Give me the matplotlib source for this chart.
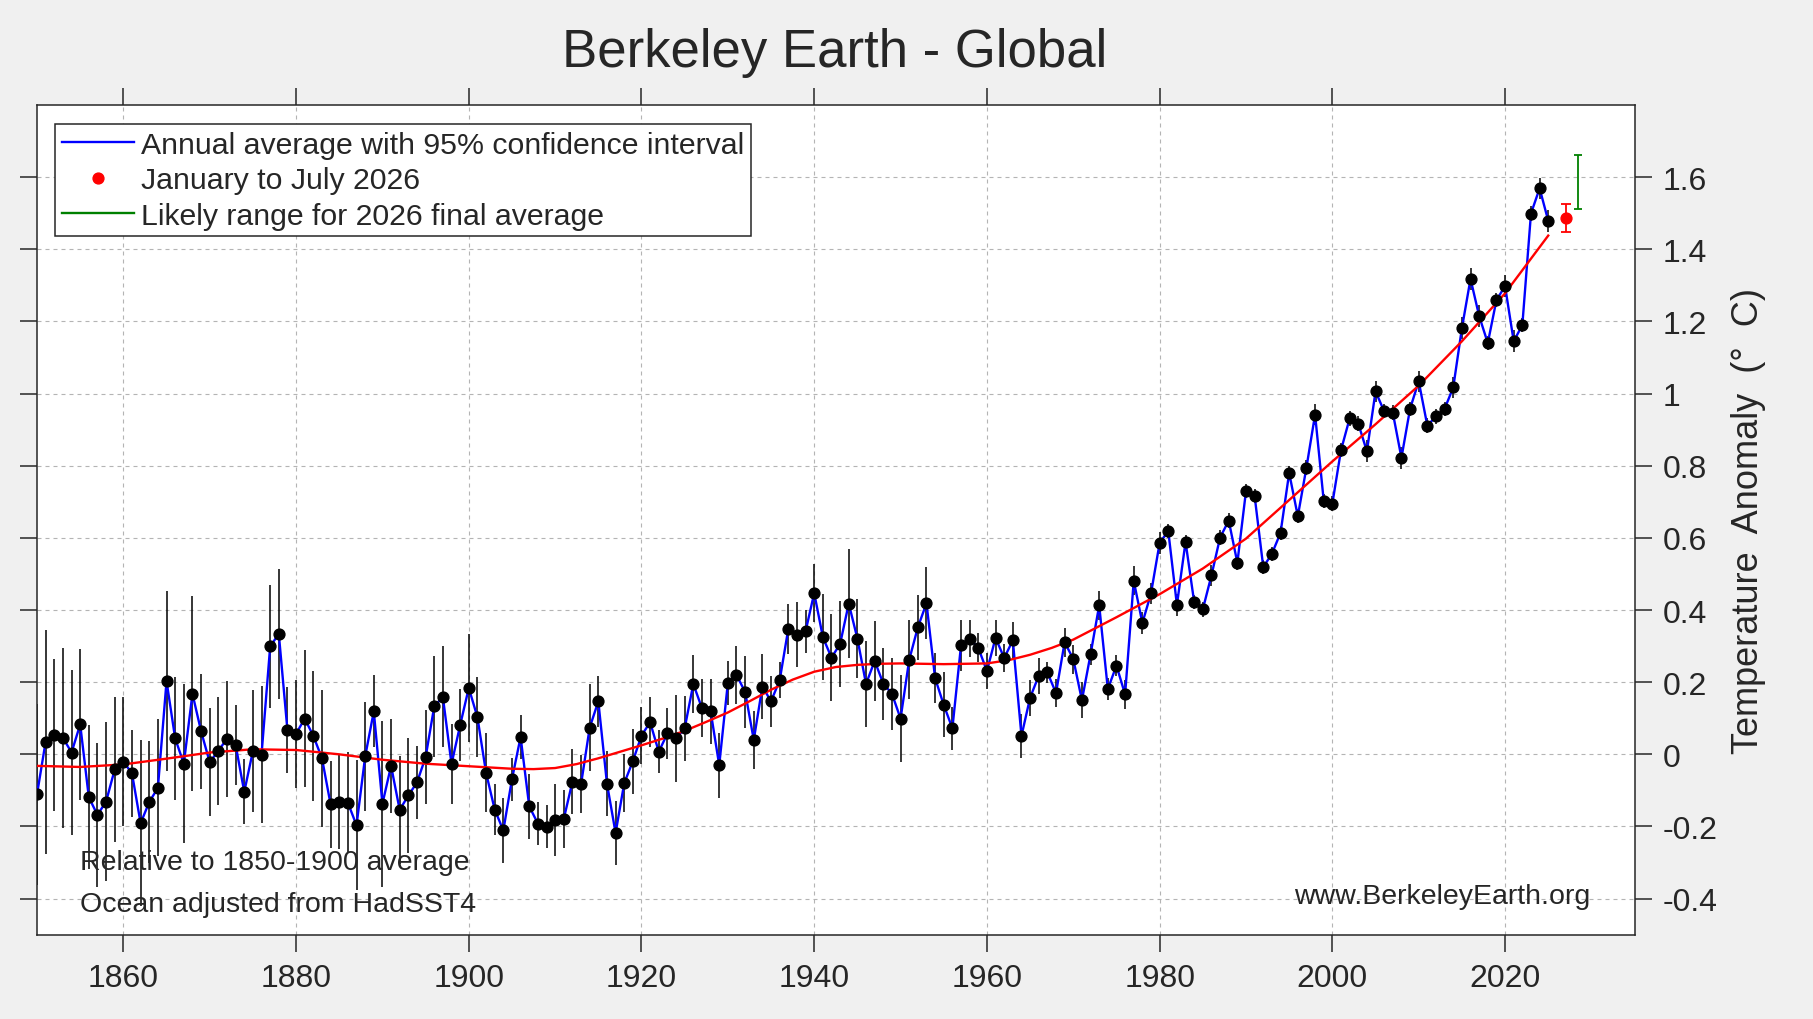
import matplotlib
matplotlib.use("Agg")
import matplotlib.pyplot as plt
from matplotlib.lines import Line2D
from matplotlib.ticker import FuncFormatter

plt.rcParams["font.family"] = ["Liberation Sans", "DejaVu Sans"]

# annual global anomaly (deg C, relative to 1850-1900)
years = list(range(1850, 2026))
anomaly = [
    -0.111, 0.035, 0.054, 0.046, 0.005, 0.083, -0.119, -0.168, -0.131, -0.042,
    -0.020, -0.053, -0.191, -0.132, -0.093, 0.203, 0.044, -0.026, 0.168, 0.064,
    -0.022, 0.010, 0.043, 0.026, -0.104, 0.009, -0.001, 0.299, 0.334, 0.067,
    0.057, 0.099, 0.051, -0.011, -0.139, -0.132, -0.134, -0.197, -0.006, 0.119,
    -0.137, -0.032, -0.154, -0.114, -0.078, -0.008, 0.133, 0.159, -0.027, 0.081,
    0.184, 0.103, -0.051, -0.153, -0.211, -0.069, 0.048, -0.144, -0.192, -0.201,
    -0.181, -0.179, -0.076, -0.083, 0.074, 0.147, -0.081, -0.218, -0.080, -0.019,
    0.052, 0.089, 0.007, 0.058, 0.044, 0.072, 0.195, 0.128, 0.120, -0.030,
    0.198, 0.220, 0.173, 0.040, 0.188, 0.147, 0.205, 0.348, 0.332, 0.341,
    0.447, 0.325, 0.268, 0.306, 0.418, 0.321, 0.195, 0.259, 0.196, 0.168,
    0.099, 0.262, 0.352, 0.419, 0.211, 0.137, 0.072, 0.302, 0.321, 0.295,
    0.231, 0.323, 0.267, 0.316, 0.051, 0.157, 0.218, 0.227, 0.170, 0.311,
    0.264, 0.150, 0.277, 0.413, 0.181, 0.246, 0.166, 0.481, 0.364, 0.446,
    0.586, 0.619, 0.414, 0.589, 0.422, 0.402, 0.496, 0.601, 0.648, 0.531,
    0.730, 0.716, 0.519, 0.556, 0.614, 0.780, 0.660, 0.795, 0.942, 0.703,
    0.695, 0.843, 0.931, 0.917, 0.840, 1.006, 0.951, 0.947, 0.822, 0.958,
    1.034, 0.911, 0.937, 0.958, 1.017, 1.181, 1.318, 1.215, 1.140, 1.259,
    1.298, 1.145, 1.190, 1.499, 1.569, 1.479,
]
# half width of the 95% confidence interval
uncert = [
    0.25, 0.31, 0.21, 0.25, 0.23, 0.21, 0.20, 0.20, 0.22, 0.20,
    0.18, 0.12, 0.23, 0.17, 0.19, 0.25, 0.17, 0.22, 0.27, 0.16,
    0.15, 0.15, 0.16, 0.11, 0.09, 0.17, 0.19, 0.17, 0.18, 0.12,
    0.15, 0.19, 0.18, 0.19, 0.12, 0.13, 0.14, 0.18, 0.15, 0.10,
    0.23, 0.13, 0.15, 0.16, 0.10, 0.13, 0.14, 0.14, 0.11, 0.10,
    0.15, 0.11, 0.11, 0.07, 0.09, 0.06, 0.06, 0.09, 0.06, 0.06,
    0.10, 0.08, 0.09, 0.08, 0.12, 0.07, 0.09, 0.09, 0.08, 0.09,
    0.08, 0.07, 0.06, 0.07, 0.12, 0.09, 0.08, 0.08, 0.09, 0.09,
    0.06, 0.08, 0.10, 0.08, 0.09, 0.07, 0.05, 0.07, 0.09, 0.06,
    0.08, 0.12, 0.12, 0.12, 0.15, 0.11, 0.12, 0.11, 0.10, 0.10,
    0.12, 0.11, 0.09, 0.10, 0.07, 0.09, 0.06, 0.07, 0.05, 0.04,
    0.05, 0.05, 0.04, 0.05, 0.06, 0.05, 0.05, 0.03, 0.04, 0.04,
    0.04, 0.05, 0.03, 0.04, 0.03, 0.03, 0.04, 0.04, 0.03, 0.03,
    0.03, 0.02, 0.03, 0.02, 0.02, 0.02, 0.03, 0.02, 0.02, 0.02,
    0.02, 0.02, 0.02, 0.02, 0.02, 0.02, 0.02, 0.02, 0.03, 0.02,
    0.02, 0.02, 0.02, 0.02, 0.03, 0.03, 0.02, 0.02, 0.03, 0.02,
    0.03, 0.02, 0.02, 0.02, 0.03, 0.03, 0.03, 0.03, 0.02, 0.02,
    0.03, 0.03, 0.02, 0.02, 0.03, 0.03,
]

# smoothed long-term trend (red curve)
trend_years = [
    1850, 1855, 1860, 1865, 1870, 1875, 1880, 1885, 1890, 1895,
    1900, 1905, 1907.5, 1910, 1912.5, 1915, 1917.5, 1920, 1922.5, 1925,
    1927.5, 1930, 1932.5, 1935, 1937.5, 1940, 1942.5, 1945, 1947.5, 1950,
    1955, 1960, 1962.5, 1965, 1967.5, 1970, 1975, 1980, 1985, 1990,
    1995, 2000, 2005, 2010, 2015, 2020, 2025,
]
trend = [
    -0.032, -0.035, -0.028, -0.012, 0.005, 0.014, 0.012, 0.000, -0.015, -0.026,
    -0.033, -0.040, -0.041, -0.038, -0.027, -0.011, 0.007, 0.025, 0.044, 0.065,
    0.090, 0.116, 0.147, 0.179, 0.207, 0.229, 0.242, 0.248, 0.251, 0.252,
    0.250, 0.252, 0.261, 0.276, 0.295, 0.318, 0.380, 0.444, 0.515, 0.598,
    0.705, 0.812, 0.915, 1.022, 1.145, 1.278, 1.438,
]

# January-July 2026 and the likely final range
partial_year = 2027.0
partial_value = 1.486
partial_err = 0.039
range_year = 2028.5
range_low = 1.512
range_high = 1.662

x_ticks = [1860, 1880, 1900, 1920, 1940, 1960, 1980, 2000, 2020]
y_ticks = [-0.4, -0.2, 0, 0.2, 0.4, 0.6, 0.8, 1, 1.2, 1.4, 1.6]

W, H = 1813, 1020
text_col = "#262626"

fig = plt.figure(figsize=(W / 100, H / 100), dpi=100, facecolor="#f0f0f0")
ax = fig.add_axes([37 / W, 1 - 935.7 / H, (1634.6 - 37) / W, (935.7 - 106) / H])
ax.set_facecolor("white")

ax.errorbar(years, anomaly, yerr=uncert, fmt="none", ecolor="black",
            elinewidth=1.1, capsize=0, zorder=2)
ax.plot(years, anomaly, color="blue", lw=1.7, zorder=3)
ax.plot(trend_years, trend, color="red", lw=1.7, zorder=4)
ax.plot(years, anomaly, "o", color="black", ms=7.8, zorder=5)

ax.errorbar([partial_year], [partial_value], yerr=[partial_err], fmt="o",
            color="red", ms=7.8, capsize=3.3, elinewidth=1.3, capthick=1.3, zorder=5)
mid = (range_low + range_high) / 2
ax.errorbar([range_year], [mid], yerr=[[mid - range_low], [range_high - mid]],
            fmt="none", ecolor="#008000", capsize=3.0, elinewidth=1.3,
            capthick=1.3, zorder=5)

ax.set_xlim(1850, 2035)
ax.set_ylim(-0.5, 1.8)
ax.set_xticks(x_ticks)
ax.set_yticks(y_ticks)
ax.yaxis.set_major_formatter(FuncFormatter(lambda v, p: f"{v:g}"))
ax.grid(True, color="#b4b4b4", lw=0.8, linestyle=(0, (3.6, 3.6)))
ax.set_axisbelow(True)

ax.tick_params(direction="out", length=12.2, width=1.1, color=text_col,
               labelsize=23, labelcolor=text_col, pad=8,
               top=True, right=True, left=True, bottom=True,
               labelleft=False, labelright=True, labeltop=False, labelbottom=True)
for s in ax.spines.values():
    s.set_color(text_col)
    s.set_linewidth(1.1)

fig.text(1748 / W, 0.5 - (520.5 - 510) / H, "Temperature  Anomaly  (°  C)",
         rotation=90, ha="center", va="center", fontsize=26, color=text_col)

fig.text(835 / W, 1 - 67 / H, "Berkeley Earth - Global", ha="center",
         va="baseline", fontsize=38, color=text_col)

fig.text(80 / W, 1 - 870 / H, "Relative to 1850-1900 average",
         ha="left", va="baseline", fontsize=20.5, color=text_col)
fig.text(80 / W, 1 - 912 / H, "Ocean adjusted from HadSST4",
         ha="left", va="baseline", fontsize=20.5, color=text_col)
fig.text(1590 / W, 1 - 904 / H, "www.BerkeleyEarth.org",
         ha="right", va="baseline", fontsize=20.5, color=text_col)

handles = [
    Line2D([], [], color="blue", lw=1.7),
    Line2D([], [], color="red", marker="o", ms=7.8, lw=0),
    Line2D([], [], color="#008000", lw=1.7),
]
labels = [
    "Annual average with 95% confidence interval",
    "January to July 2026",
    "Likely range for 2026 final average",
]
leg = ax.legend(handles, labels, loc="upper left",
                bbox_to_anchor=((55 - 37) / (1634.6 - 37), (935.7 - 125) / (935.7 - 106)),
                borderaxespad=0, fontsize=21.8, handlelength=2.4,
                handletextpad=0.22, labelspacing=0.25, borderpad=0.22,
                fancybox=False, framealpha=1, edgecolor=text_col)
leg.get_frame().set_linewidth(1.1)
for t in leg.get_texts():
    t.set_color(text_col)

fig.savefig("out.png", dpi=100, facecolor=fig.get_facecolor())
